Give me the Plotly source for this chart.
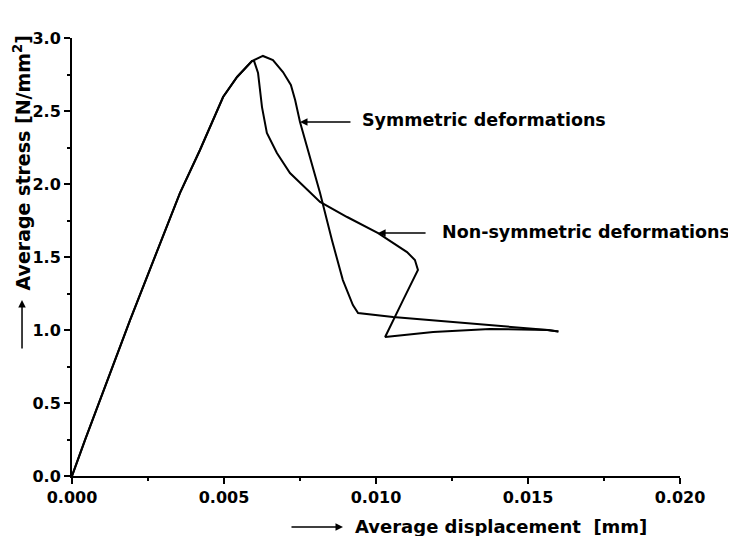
import plotly.graph_objects as go

# Shared elastic (rising) branch
rise_x = [0.0, 0.00043, 0.00191, 0.00355, 0.00421, 0.00497, 0.00543, 0.00592]
rise_y = [0.0, 0.247, 1.068, 1.938, 2.233, 2.596, 2.733, 2.842]

# Symmetric deformations (continues over the peak, steep drop)
sym_tail_x = [0.00628, 0.00661, 0.00694, 0.00720, 0.00734, 0.00750, 0.00816, 0.00855,
              0.00891, 0.00924, 0.00941, 0.01056, 0.01566, 0.01600]
sym_tail_y = [2.877, 2.849, 2.767, 2.678, 2.575, 2.425, 1.938, 1.616,
              1.342, 1.171, 1.116, 1.089, 1.000, 0.990]

# Non-symmetric deformations
nsym_tail_x = [0.00599, 0.00612, 0.00625, 0.00641, 0.00674, 0.00717, 0.00816, 0.00905,
               0.01007, 0.01102, 0.01128, 0.01138, 0.01089, 0.01030, 0.01188, 0.01375,
               0.01563, 0.01600]
nsym_tail_y = [2.842, 2.760, 2.527, 2.349, 2.212, 2.075, 1.877, 1.774,
               1.664, 1.534, 1.479, 1.411, 1.205, 0.952, 0.986, 1.007,
               1.000, 0.990]

x_ticks = [0.0, 0.005, 0.010, 0.015, 0.020]
x_tick_text = ["0.000", "0.005", "0.010", "0.015", "0.020"]
y_ticks = [0.0, 0.5, 1.0, 1.5, 2.0, 2.5, 3.0]
y_tick_text = ["0.0", "0.5", "1.0", "1.5", "2.0", "2.5", "3.0"]

FONT = "DejaVu Sans"
line_style = dict(color="black", width=2)

fig = go.Figure()
fig.add_trace(go.Scatter(x=rise_x + sym_tail_x, y=rise_y + sym_tail_y,
                         mode="lines", line=line_style, name="Symmetric deformations"))
fig.add_trace(go.Scatter(x=rise_x + nsym_tail_x, y=rise_y + nsym_tail_y,
                         mode="lines", line=line_style, name="Non-symmetric deformations"))

tick_font = dict(family=FONT, size=16, color="black", weight="bold")
lab_font = dict(family=FONT, size=17.5, color="black", weight="bold")
xt_font = dict(family=FONT, size=18, color="black", weight="bold")
yt_font = dict(family=FONT, size=19, color="black", weight="bold")

fig.update_xaxes(range=[0, 0.020], tickvals=x_ticks, ticktext=x_tick_text,
                 showgrid=False, zeroline=False, showline=True, linecolor="black",
                 linewidth=2, ticks="outside", ticklen=6, tickwidth=1.5, tickcolor="black",
                 tickfont=tick_font,
                 minor=dict(dtick=0.0025, ticks="outside", ticklen=3, tickcolor="black",
                            showgrid=False))
fig.update_yaxes(range=[0, 3.0], tickvals=y_ticks, ticktext=y_tick_text,
                 showgrid=False, zeroline=False, showline=True, linecolor="black",
                 linewidth=2, ticks="outside", ticklen=6, tickwidth=1.5, tickcolor="black",
                 tickfont=tick_font, ticklabelstandoff=0,
                 minor=dict(dtick=0.25, ticks="outside", ticklen=3, tickcolor="black",
                            showgrid=False))

annotations = [
    # curve labels
    dict(x=0.00947, y=2.438, xref="x", yref="y", text="Symmetric deformations",
         showarrow=False, xanchor="left", yanchor="middle", font=lab_font),
    dict(x=0.00750, y=2.425, xref="x", yref="y", ax=0.00921, ay=2.425,
         axref="x", ayref="y", text="", showarrow=True, arrowhead=2,
         arrowsize=1, arrowwidth=1.5, arrowcolor="black"),
    dict(x=0.0121, y=1.671, xref="x", yref="y", text="Non-symmetric deformations",
         showarrow=False, xanchor="left", yanchor="middle", font=lab_font),
    dict(x=0.01007, y=1.664, xref="x", yref="y", ax=0.01168, ay=1.664,
         axref="x", ayref="y", text="", showarrow=True, arrowhead=2,
         arrowsize=1, arrowwidth=1.5, arrowcolor="black"),
    # axis titles
    dict(x=-0.0822, y=0.7158, xref="paper", yref="paper",
         text="Average stress [N/mm<sup>2</sup>]", textangle=-90,
         showarrow=False, xanchor="center", yanchor="middle", font=yt_font),
    dict(x=-0.0822, y=0.4018, xref="paper", yref="paper", ax=0, ay=50,
         text="", showarrow=True, arrowhead=2, arrowsize=1, arrowwidth=1.5,
         arrowcolor="black"),
    dict(x=0.7064, y=-0.1142, xref="paper", yref="paper",
         text="Average displacement  [mm]",
         showarrow=False, xanchor="center", yanchor="middle", font=xt_font),
    dict(x=0.4457, y=-0.1164, xref="paper", yref="paper", ax=-53, ay=0,
         text="", showarrow=True, arrowhead=2, arrowsize=1, arrowwidth=1.5,
         arrowcolor="black"),
]

fig.update_layout(width=728, height=528, showlegend=False,
                  margin=dict(l=64, r=56, t=30, b=60),
                  paper_bgcolor="white", plot_bgcolor="white",
                  annotations=annotations)

fig.write_html("out.html")
